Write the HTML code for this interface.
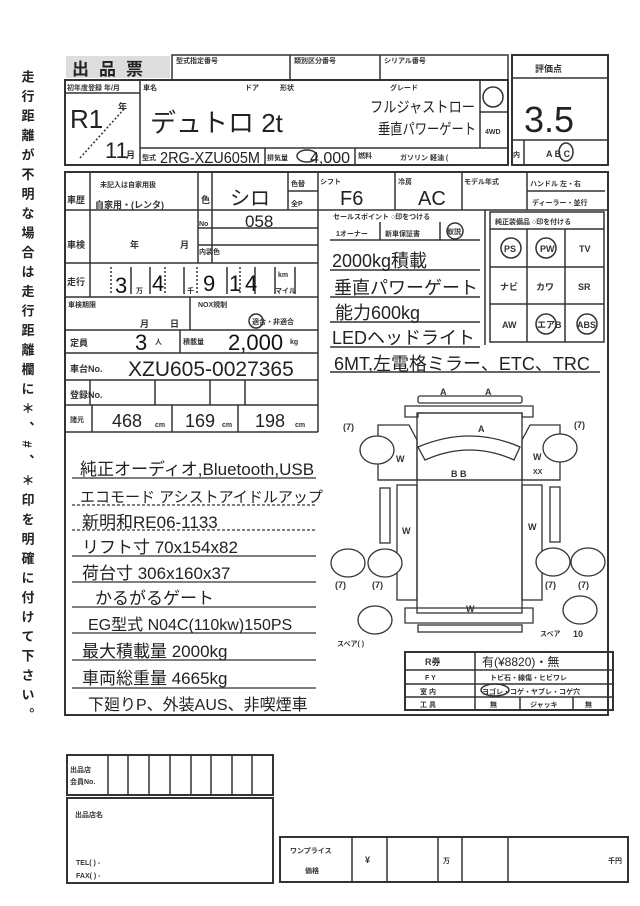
<!DOCTYPE html>
<html><head><meta charset="utf-8"><style>
html,body{margin:0;padding:0;background:#fff}
svg{display:block}
text{font-family:"Liberation Sans","Noto Sans CJK JP",sans-serif;fill:#222}
.h{font-size:22px;fill:#111}
.s{font-size:7px;font-weight:bold;fill:#333}
.m{font-size:9px;font-weight:bold;fill:#333}
</style></head><body>
<svg width="640" height="906" viewBox="0 0 640 906" xmlns="http://www.w3.org/2000/svg">
<g fill="none" stroke="#333" stroke-width="1.5">
<rect x="172" y="55" width="336" height="25"/>
<line x1="290" y1="55" x2="290" y2="80"/><line x1="380" y1="55" x2="380" y2="80"/>
<rect x="65" y="80" width="443" height="85" stroke-width="2"/>
<line x1="140" y1="80" x2="140" y2="165"/>
<line x1="65" y1="93" x2="140" y2="93"/>
<line x1="140" y1="148" x2="508" y2="148"/>
<line x1="480" y1="80" x2="480" y2="148"/><line x1="480" y1="112" x2="508" y2="112"/>
<line x1="265" y1="148" x2="265" y2="165"/><line x1="355" y1="148" x2="355" y2="165"/>
<line x1="80" y1="158" x2="125" y2="108" stroke-dasharray="2 2"/>
<rect x="512" y="55" width="96" height="110" stroke-width="2"/>
<line x1="512" y1="78" x2="608" y2="78"/><line x1="512" y1="140" x2="608" y2="140"/>
<line x1="524" y1="140" x2="524" y2="165"/>
<rect x="65" y="172" width="543" height="543" stroke-width="2"/>
<line x1="318" y1="172" x2="318" y2="432"/>
<line x1="65" y1="210" x2="318" y2="210"/><line x1="65" y1="263" x2="318" y2="263"/>
<line x1="65" y1="297" x2="318" y2="297"/><line x1="65" y1="330" x2="318" y2="330"/>
<line x1="65" y1="353" x2="318" y2="353"/><line x1="65" y1="380" x2="318" y2="380"/>
<line x1="65" y1="405" x2="318" y2="405"/><line x1="65" y1="432" x2="318" y2="432"/>
<line x1="90" y1="172" x2="90" y2="263"/><line x1="198" y1="172" x2="198" y2="263"/>
<line x1="212" y1="172" x2="212" y2="263"/><line x1="288" y1="172" x2="288" y2="210"/>
<line x1="288" y1="191" x2="318" y2="191"/><line x1="198" y1="228" x2="318" y2="228"/><line x1="198" y1="245" x2="318" y2="245"/>
<line x1="90" y1="263" x2="90" y2="297"/><line x1="111" y1="267" x2="111" y2="294" stroke-dasharray="2 2"/>
<line x1="131" y1="267" x2="131" y2="294"/><line x1="150" y1="267" x2="150" y2="294"/><line x1="165" y1="267" x2="165" y2="294" stroke-dasharray="2 2"/>
<line x1="184" y1="267" x2="184" y2="294"/><line x1="197" y1="267" x2="197" y2="294" stroke-dasharray="2 2"/>
<line x1="227" y1="267" x2="227" y2="294"/><line x1="240" y1="267" x2="240" y2="294" stroke-dasharray="2 2"/>
<line x1="255" y1="267" x2="255" y2="294"/><line x1="275" y1="267" x2="275" y2="294"/><line x1="295" y1="267" x2="295" y2="294"/>
<line x1="190" y1="297" x2="190" y2="330"/><line x1="180" y1="330" x2="180" y2="353"/>
<line x1="90" y1="380" x2="90" y2="405"/><line x1="155" y1="380" x2="155" y2="405"/><line x1="210" y1="380" x2="210" y2="405"/><line x1="245" y1="380" x2="245" y2="405"/>
<line x1="92" y1="405" x2="92" y2="432"/><line x1="172" y1="405" x2="172" y2="432"/><line x1="238" y1="405" x2="238" y2="432"/>
<line x1="318" y1="210" x2="608" y2="210"/>
<line x1="395" y1="172" x2="395" y2="210"/><line x1="462" y1="172" x2="462" y2="210"/><line x1="527" y1="172" x2="527" y2="210"/>
<line x1="527" y1="191" x2="605" y2="191"/>
<line x1="485" y1="210" x2="485" y2="345"/>
<rect x="490" y="212" width="114" height="130"/>
<line x1="490" y1="229" x2="604" y2="229"/><line x1="490" y1="267" x2="604" y2="267"/><line x1="490" y1="304" x2="604" y2="304"/>
<line x1="527" y1="229" x2="527" y2="342"/><line x1="565" y1="229" x2="565" y2="342"/>
<line x1="330" y1="240" x2="480" y2="240"/><line x1="380" y1="222" x2="380" y2="240"/><line x1="440" y1="222" x2="440" y2="240"/>
<line x1="330" y1="270" x2="480" y2="270"/><line x1="330" y1="297" x2="480" y2="297"/><line x1="330" y1="322" x2="480" y2="322"/><line x1="330" y1="347" x2="480" y2="347"/><line x1="330" y1="372" x2="600" y2="372"/>
<circle cx="511" cy="248" r="10"/><circle cx="546" cy="248" r="10"/><circle cx="587" cy="324" r="10"/><circle cx="546" cy="324" r="10"/><circle cx="455" cy="231" r="8"/>
<circle cx="493" cy="97" r="10"/><ellipse cx="566" cy="152" rx="7" ry="9"/><ellipse cx="307" cy="156" rx="10" ry="6"/><circle cx="256" cy="321" r="7"/>
<g stroke-width="1.2">
<line x1="72" y1="478" x2="316" y2="478"/><line x1="72" y1="505" x2="316" y2="505" stroke-dasharray="3 2"/>
<line x1="72" y1="530" x2="316" y2="530" stroke-dasharray="3 2"/><line x1="72" y1="556" x2="316" y2="556"/>
<line x1="72" y1="582" x2="316" y2="582"/><line x1="72" y1="607" x2="316" y2="607"/>
<line x1="72" y1="633" x2="316" y2="633"/><line x1="72" y1="660" x2="316" y2="660"/>
<line x1="72" y1="688" x2="316" y2="688"/>
</g>
<g stroke-width="1.3">
<rect x="418" y="396" width="104" height="7" rx="2"/>
<path d="M405 406 H533 V417 H522 V413 H418 V417 H405 Z"/>
<rect x="417" y="413" width="105" height="200"/>
<line x1="417" y1="480" x2="522" y2="480"/>
<path d="M418 447 Q470 425 520 447 L514 460 Q470 440 425 460 Z"/>
<path d="M378 425 H409 L417 440 V480 H378 Z"/><path d="M560 425 H530 L522 440 V480 H560 Z"/>
<line x1="378" y1="480" x2="560" y2="480"/>
<rect x="397" y="485" width="20" height="115"/><rect x="522" y="485" width="20" height="115"/>
<rect x="380" y="488" width="10" height="55"/><rect x="550" y="487" width="10" height="55"/>
<ellipse cx="377" cy="450" rx="17" ry="14" fill="#fff"/><ellipse cx="560" cy="448" rx="17" ry="14" fill="#fff"/>
<ellipse cx="348" cy="563" rx="17" ry="14" fill="#fff"/><ellipse cx="385" cy="563" rx="17" ry="14" fill="#fff"/>
<ellipse cx="553" cy="562" rx="17" ry="14" fill="#fff"/><ellipse cx="588" cy="562" rx="17" ry="14" fill="#fff"/>
<ellipse cx="375" cy="620" rx="17" ry="14"/><ellipse cx="580" cy="610" rx="17" ry="14"/>
<path d="M405 608 H533 V623 H405 Z"/><rect x="418" y="625" width="104" height="7"/>
</g>
<rect x="405" y="652" width="208" height="58" stroke-width="2"/>
<line x1="405" y1="670" x2="613" y2="670"/><line x1="405" y1="684" x2="613" y2="684"/><line x1="405" y1="697" x2="613" y2="697"/>
<line x1="475" y1="652" x2="475" y2="710"/><line x1="520" y1="697" x2="520" y2="710"/><line x1="573" y1="697" x2="573" y2="710"/>
<ellipse cx="495" cy="690" rx="14" ry="6"/>
<rect x="67" y="755" width="206" height="40" stroke-width="2"/>
<line x1="108" y1="755" x2="108" y2="795"/><line x1="128" y1="755" x2="128" y2="795"/><line x1="149" y1="755" x2="149" y2="795"/><line x1="170" y1="755" x2="170" y2="795"/><line x1="191" y1="755" x2="191" y2="795"/><line x1="211" y1="755" x2="211" y2="795"/><line x1="232" y1="755" x2="232" y2="795"/><line x1="252" y1="755" x2="252" y2="795"/>
<rect x="67" y="798" width="206" height="85" stroke-width="2"/>
<rect x="280" y="837" width="348" height="45" stroke-width="2"/>
<line x1="352" y1="837" x2="352" y2="882"/><line x1="387" y1="837" x2="387" y2="882"/><line x1="438" y1="837" x2="438" y2="882"/><line x1="462" y1="837" x2="462" y2="882"/><line x1="508" y1="837" x2="508" y2="882"/>
</g>
<rect x="66" y="56" width="104" height="22" fill="#ddd"/>
<text x="72" y="75" style="font-size:17px;font-weight:bold;letter-spacing:10px">出品票</text>
<text x="176" y="63" class="s">型式指定番号</text><text x="294" y="63" class="s">類別区分番号</text><text x="384" y="63" class="s">シリアル番号</text>
<text x="67" y="90" class="s">初年度登録 年/月</text><text x="143" y="90" class="s">車名</text><text x="245" y="90" class="s">ドア</text><text x="280" y="90" class="s">形状</text><text x="390" y="90" class="s">グレード</text>
<text x="70" y="128" style="font-size:26px">R1</text><text x="118" y="110" class="m">年</text><text x="105" y="158" style="font-size:22px">11</text><text x="126" y="158" class="m">月</text>
<text x="150" y="132" style="font-size:26px">デュトロ 2t</text>
<text x="370" y="112" style="font-size:15px" textLength="105" lengthAdjust="spacingAndGlyphs">フルジャストロー</text><text x="378" y="134" style="font-size:15px" textLength="98" lengthAdjust="spacingAndGlyphs">垂直パワーゲート</text>
<text x="485" y="134" class="s">4WD</text>
<text x="142" y="160" class="s">型式</text><text x="160" y="163" style="font-size:16px" textLength="100" lengthAdjust="spacingAndGlyphs">2RG-XZU605M</text>
<text x="267" y="160" class="s">排気量</text><text x="310" y="163" style="font-size:16px">4,000</text>
<text x="358" y="158" class="s">燃料</text><text x="400" y="160" class="s">ガソリン 軽油 (</text>
<text x="535" y="72" class="m">評価点</text><text x="524" y="132" style="font-size:36px">3.5</text>
<text x="513" y="157" class="s">内</text><text x="546" y="157" class="m">A   B   C</text>
<text x="67" y="203" class="m">車歴</text><text x="100" y="187" class="s">未記入は自家用扱</text><text x="95" y="208" class="m">自家用・(レンタ)</text>
<text x="201" y="203" class="m">色</text><text x="230" y="205" style="font-size:20px">シロ</text><text x="291" y="186" class="s">色替</text><text x="291" y="206" class="s">全P</text>
<text x="199" y="226" class="s">No</text><text x="245" y="227" style="font-size:17px">058</text><text x="199" y="254" class="s">内装色</text>
<text x="67" y="248" class="m">車検</text><text x="130" y="248" class="m">年</text><text x="180" y="248" class="m">月</text>
<text x="67" y="285" class="m">走行</text><text x="115" y="293" class="h">3</text><text x="136" y="293" class="s">万</text><text x="152" y="291" class="h">4</text><text x="187" y="293" class="s">千</text><text x="203" y="291" class="h">9</text><text x="229" y="291" class="h">1</text><text x="245" y="291" class="h">4</text><text x="278" y="277" class="s">km</text><text x="275" y="293" class="s">マイル</text>
<text x="68" y="307" class="s">車検期限</text><text x="140" y="327" class="m">月</text><text x="170" y="327" class="m">日</text><text x="198" y="307" class="s">NOX規制</text><text x="252" y="324" class="s">適合・非適合</text>
<text x="70" y="346" class="m">定員</text><text x="135" y="350" class="h">3</text><text x="155" y="344" class="s">人</text><text x="183" y="344" class="s">積載量</text><text x="228" y="350" class="h">2,000</text><text x="290" y="344" class="s">kg</text>
<text x="70" y="372" class="m">車台No.</text><text x="128" y="376" style="font-size:21px">XZU605-0027365</text>
<text x="70" y="398" class="m">登録No.</text>
<text x="70" y="422" class="s">諸元</text><text x="112" y="427" style="font-size:18px">468</text><text x="155" y="427" class="s">cm</text><text x="185" y="427" style="font-size:18px">169</text><text x="222" y="427" class="s">cm</text><text x="255" y="427" style="font-size:18px">198</text><text x="295" y="427" class="s">cm</text>
<text x="320" y="184" class="s">シフト</text><text x="340" y="205" style="font-size:20px">F6</text><text x="398" y="184" class="s">冷房</text><text x="418" y="205" style="font-size:20px">AC</text><text x="464" y="184" class="s">モデル年式</text><text x="530" y="186" class="s">ハンドル 左・右</text><text x="532" y="205" class="s">ディーラー・並行</text>
<text x="333" y="219" class="s">セールスポイント ○印をつける</text><text x="336" y="236" class="s">1オーナー</text><text x="385" y="236" class="s">新車保証書</text><text x="447" y="234" class="s">取説</text>
<text x="332" y="267" style="font-size:18px">2000kg積載</text><text x="334" y="294" style="font-size:18px">垂直パワーゲート</text>
<text x="335" y="319" style="font-size:18px">能力600kg</text><text x="332" y="344" style="font-size:18px">LEDヘッドライト</text>
<text x="334" y="370" style="font-size:18px">6MT,左電格ミラー、ETC、TRC</text>
<text x="495" y="224" class="s">純正装備品 ○印を付ける</text>
<text x="504" y="252" class="m">PS</text><text x="540" y="252" class="m">PW</text><text x="579" y="252" class="m">TV</text>
<text x="500" y="290" class="m">ナビ</text><text x="536" y="290" class="m">カワ</text><text x="578" y="290" class="m">SR</text>
<text x="502" y="328" class="m">AW</text><text x="537" y="328" class="m">エアB</text><text x="577" y="328" class="m">ABS</text>
<text x="80" y="475" style="font-size:17px">純正オーディオ,Bluetooth,USB</text>
<text x="80" y="502" style="font-size:15px">エコモード アシストアイドルアップ</text>
<text x="82" y="528" style="font-size:17px">新明和RE06-1133</text>
<text x="82" y="553" style="font-size:17px">リフト寸 70x154x82</text>
<text x="82" y="579" style="font-size:17px">荷台寸  306x160x37</text>
<text x="95" y="604" style="font-size:17px">かるがるゲート</text>
<text x="88" y="630" style="font-size:16px">EG型式 N04C(110kw)150PS</text>
<text x="82" y="657" style="font-size:17px">最大積載量 2000kg</text>
<text x="82" y="684" style="font-size:17px">車両総重量 4665kg</text>
<text x="88" y="710" style="font-size:16px">下廻りP、外装AUS、非喫煙車</text>
<text x="440" y="395" class="m">A</text><text x="485" y="395" class="m">A</text><text x="478" y="432" class="m">A</text>
<text x="451" y="477" class="m">B B</text><text x="396" y="462" class="m">W</text><text x="533" y="460" class="m">W</text><text x="533" y="474" class="s">XX</text>
<text x="402" y="534" class="m">W</text><text x="528" y="530" class="m">W</text><text x="466" y="612" class="m">W</text>
<text x="343" y="430" class="m">(7)</text><text x="574" y="428" class="m">(7)</text>
<text x="335" y="588" class="m">(7)</text><text x="372" y="588" class="m">(7)</text><text x="545" y="588" class="m">(7)</text><text x="578" y="588" class="m">(7)</text>
<text x="337" y="646" class="s">スペア(  )</text><text x="540" y="636" class="s">スペア</text><text x="573" y="637" class="m">10</text>
<text x="425" y="665" class="m">R券</text><text x="482" y="666" style="font-size:12px">有(¥8820)・無</text>
<text x="425" y="680" class="s">F Y</text><text x="490" y="680" class="s">トビ石・線傷・ヒビワレ</text>
<text x="420" y="694" class="s">室  内</text><text x="482" y="694" class="s">ヨゴレ・コゲ・ヤブレ・コゲ穴</text>
<text x="420" y="707" class="s">工  具</text><text x="490" y="707" class="s">無</text><text x="530" y="707" class="s">ジャッキ</text><text x="585" y="707" class="s">無</text>
<text x="70" y="772" class="s">出品店</text><text x="70" y="784" class="s">会員No.</text>
<text x="75" y="817" class="s">出品店名</text>
<text x="76" y="865" class="s">TEL(          )      -</text><text x="76" y="878" class="s">FAX(          )      -</text>
<text x="290" y="853" class="s">ワンプライス</text><text x="305" y="873" class="s">価格</text>
<text x="365" y="863" class="m">¥</text><text x="443" y="863" class="s">万</text><text x="608" y="863" class="s">千円</text>
<text x="27" y="70" style="font-size:13px;font-weight:bold;writing-mode:tb;letter-spacing:6.5px">走行距離が不明な場合は走行距離欄に＊、#、＊印を明確に付けて下さい。</text>
</svg>
</body></html>
